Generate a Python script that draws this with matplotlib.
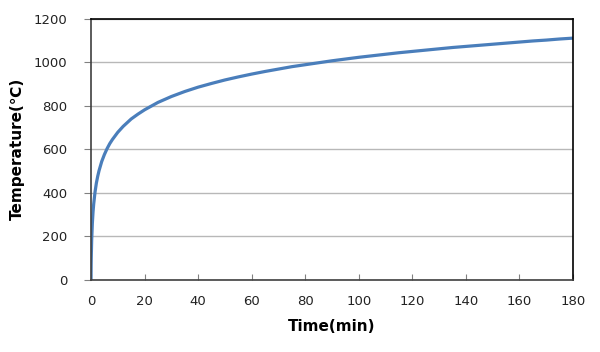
import matplotlib
matplotlib.use("Agg")
import matplotlib.pyplot as plt

# values
time_min = [0, 0.05, 0.1, 0.25, 0.5, 0.75, 1, 1.5, 2, 2.5, 3, 4, 5, 6, 7, 8,
            10, 12, 15, 17.5, 20, 25, 30, 35, 40, 45, 50, 55, 60, 65, 70, 75,
            80, 85, 90, 95, 100, 105, 110, 115, 120, 125, 130, 135, 140, 145,
            150, 155, 160, 165, 170, 175, 180]
temp_c = [0, 70, 108, 185, 261, 312, 349, 404, 445, 476, 502, 544, 576, 603,
          626, 645, 678, 705, 739, 761, 781, 815, 842, 865, 885, 902, 918, 932,
          945, 957, 968, 979, 988, 997, 1006, 1014, 1022, 1029, 1036, 1043,
          1049, 1055, 1061, 1067, 1072, 1077, 1082, 1087, 1092, 1097, 1101,
          1106, 1110]
x_ticks = list(range(0, 181, 20))
y_ticks = list(range(0, 1201, 200))

fig = plt.figure(figsize=(6, 3.52), dpi=100)
ax = fig.add_axes([0.1517, 0.2045, 0.8033, 0.7429])

ax.plot(time_min, temp_c, color='#4a7ebb', lw=2.3, solid_capstyle='butt',
        solid_joinstyle='round')

ax.set_xlim(0, 180)
ax.set_ylim(0, 1200)
ax.set_xticks(x_ticks)
ax.set_yticks(y_ticks)
ax.yaxis.grid(True, color='#b8b8b8', lw=1)
ax.set_axisbelow(True)

for side in ax.spines.values():
    side.set_color('black')
    side.set_linewidth(1.2)
ax.spines['left'].set_color('#404040')
ax.spines['bottom'].set_color('#404040')

ax.tick_params(axis='x', direction='in', length=4, color='#808080',
               labelsize=9.5, pad=11, labelcolor='#222222')
ax.tick_params(axis='y', direction='out', length=5, color='#808080',
               labelsize=9.5, pad=12, labelcolor='#222222')

ax.set_xlabel('Time(min)', fontsize=11, fontweight='bold', labelpad=8)
ax.set_ylabel('Temperature(\u2103)', fontsize=11, fontweight='bold', labelpad=6)

fig.savefig('out.png', dpi=100)
